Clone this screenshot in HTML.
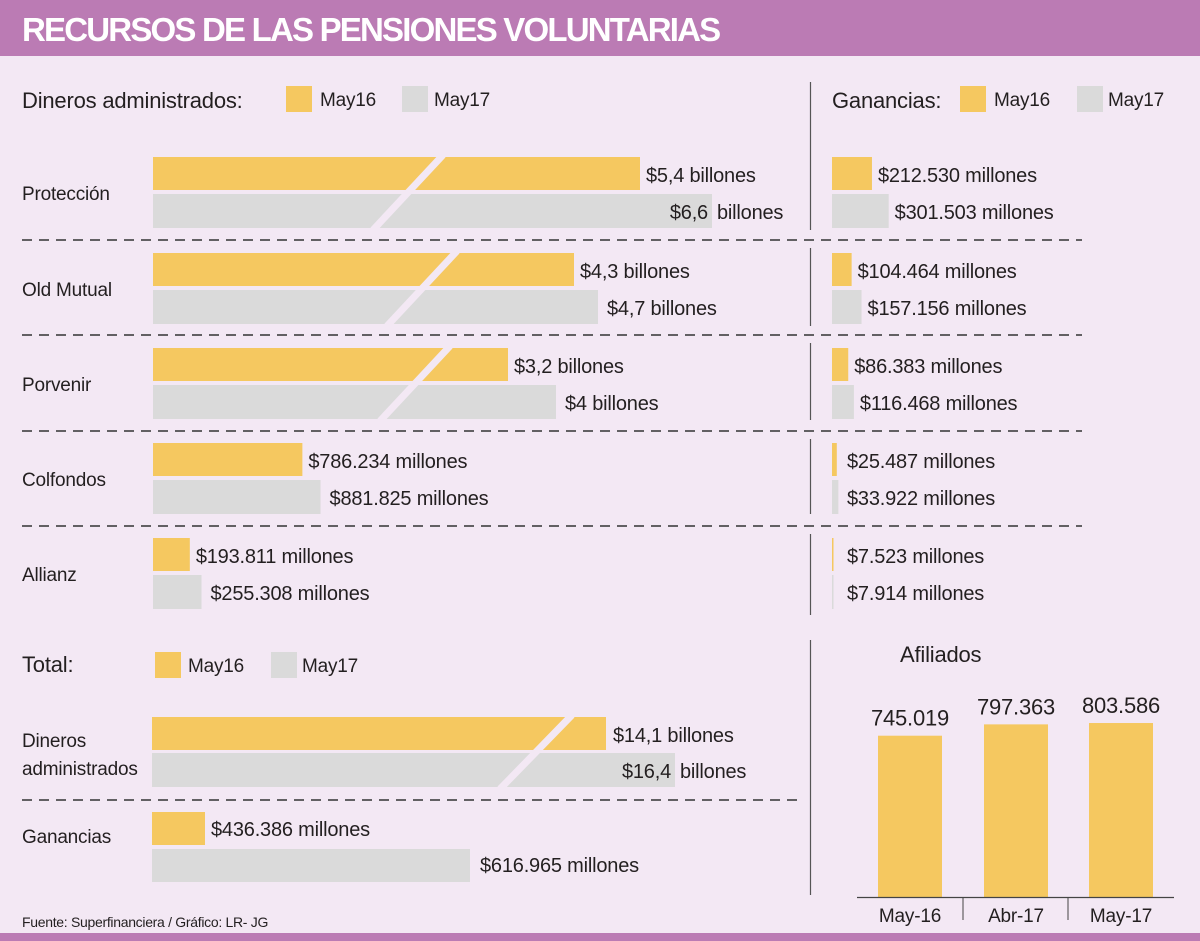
<!DOCTYPE html>
<html><head><meta charset="utf-8"><style>
body{margin:0;background:#f3e8f4;}
svg{display:block;font-family:"Liberation Sans",sans-serif;}
text{fill:#231f20;}
</style></head><body>
<svg id="c" width="1200" height="941" viewBox="0 0 1200 941">
<rect x="0" y="0" width="1200" height="941" fill="#f3e8f4"/>
<rect x="0" y="0" width="1200" height="56" fill="#bb7bb4"/>
<text x="22" y="41" style="fill:#fff;font-weight:bold;font-size:33px;letter-spacing:-1.8px">RECURSOS DE LAS PENSIONES VOLUNTARIAS</text>
<rect x="0" y="933" width="1200" height="8" fill="#bb7bb4"/>
<g id="g"></g>
</svg>
<script>
const administradoras = ["Protección","Old Mutual","Porvenir","Colfondos","Allianz"];
const dinerosMay16 = [5.4, 4.3, 3.2, 0.786234, 0.193811]; // billones
const dinerosMay17 = [6.6, 4.7, 4.0, 0.881825, 0.255308];
const dinerosLabels16 = ["$5,4 billones","$4,3 billones","$3,2 billones","$786.234 millones","$193.811 millones"];
const dinerosLabels17 = ["$6,6 billones","$4,7 billones","$4 billones","$881.825 millones","$255.308 millones"];
const gananciasMay16 = [212530, 104464, 86383, 25487, 7523]; // millones
const gananciasMay17 = [301503, 157156, 116468, 33922, 7914];
const totalDineros = [14.1, 16.4];
const totalGanancias = [436386, 616965];
const afiliadosCats = ["May-16","Abr-17","May-17"];
const afiliadosVals = [745019, 797363, 803586];

const Y = "#f5c860", G = "#dadada", BG = "#f3e8f4";
const g = document.getElementById('g');
const NS = "http://www.w3.org/2000/svg";
function mk(tag, attrs, parent){const e=document.createElementNS(NS,tag);for(const k in attrs)e.setAttribute(k,attrs[k]);(parent||g).appendChild(e);return e;}
function txt(x,y,s,size,extra){const t=mk('text',Object.assign({x:x,y:y,'font-size':size||20,'letter-spacing':'-0.2'},extra||{}));t.textContent=s;return t;}
function fmtM(v){return "$"+v.toLocaleString('de-DE')+" millones";}
function fmtB(v){return v.toLocaleString('de-DE');}

function xDin(v){ return v>=1 ? 163 + v*60 : v*190; }
function xGan(v){ return v*0.000188; }
function xTotD(v){ return 31 + v*30; }
function xTotG(v){ return 53 + (v-436386)*(265/180579); }
function hAf(v){ return v*0.0002165; }

let t;
t=txt(22,108,"Dineros administrados:",22);


let r=mk('rect',{x:286,y:86,width:26,height:26,fill:Y});


t=txt(320,106,"May16",19);


r=mk('rect',{x:402,y:86,width:26,height:26,fill:G});


t=txt(434,106,"May17",19);



t=txt(832,108,"Ganancias:",22);


r=mk('rect',{x:960,y:86,width:26,height:26,fill:Y});


t=txt(994,106,"May16",19);


r=mk('rect',{x:1077,y:86,width:26,height:26,fill:G});


t=txt(1108,106,"May17",19);



const rowTop = [157,253,348,443,538];
const dashY = [240,335,431,526];
const breakTop = [443,457,450,0,0];
const segTop=[82,248,343,439,534], segBot=[230,326,420,514,615];
administradoras.forEach((name,i)=>{
  const yt=rowTop[i], yb=yt+37;
  let l=txt(22,yt+43,name,19);
  
  
  const w16=xDin(dinerosMay16[i]), w17=xDin(dinerosMay17[i]);
  let b=mk('rect',{x:153,y:yt,width:w16,height:33,fill:Y});
  
  
  b=mk('rect',{x:153,y:yb,width:w17,height:34,fill:G});
  
  
  if(dinerosMay16[i]>=1){
    const bx=breakTop[i];
    const br=mk('line',{x1:bx,y1:yt-2,x2:bx-70,y2:yb+36,stroke:BG,'stroke-width':7});
    
    
  }
  l=txt(153+w16+6,yt+25,dinerosLabels16[i],20);
  
  
  if(i===0){
    const parts=dinerosLabels17[i].split(' ');
    l=txt(153+w17-4,yb+25,parts[0],20,{'text-anchor':'end'});
    
    
    l=txt(153+w17+5,yb+25,parts[1],20);
    
    
  } else {
    l=txt(153+w17+9,yb+25,dinerosLabels17[i],20);
    
    
  }
  const g16=Math.max(1.5,xGan(gananciasMay16[i])), g17=Math.max(1,xGan(gananciasMay17[i]));
  b=mk('rect',{x:832,y:yt,width:g16,height:33,fill:Y});
  
  
  b=mk('rect',{x:832,y:yb,width:g17,height:34,fill:G});
  
  
  l=txt(832+Math.max(g16,9)+6,yt+25,fmtM(gananciasMay16[i]),20);
  
  
  l=txt(832+Math.max(g17,9)+6,yb+25,fmtM(gananciasMay17[i]),20);
  
  
  const s=mk('line',{x1:810.5,y1:segTop[i],x2:810.5,y2:segBot[i],stroke:'#555','stroke-width':1.2});
  
  
});
dashY.forEach((y,i)=>{
  const d=mk('line',{x1:22,y1:y,x2:1082,y2:y,stroke:'#333','stroke-width':1.5,'stroke-dasharray':'10 7'});
  
  
});

t=txt(22,672,"Total:",22);


r=mk('rect',{x:155,y:652,width:26,height:26,fill:Y});


t=txt(188,672,"May16",19);


r=mk('rect',{x:271,y:652,width:26,height:26,fill:G});


t=txt(302,672,"May17",19);



t=txt(22,747,"Dineros",19);


t=txt(22,775,"administrados",19);


let tw16=xTotD(totalDineros[0]), tw17=xTotD(totalDineros[1]);
r=mk('rect',{x:152,y:717,width:tw16,height:33,fill:Y});


r=mk('rect',{x:152,y:753,width:tw17,height:34,fill:G});


r=mk('line',{x1:572,y1:715,x2:500,y2:789,stroke:BG,'stroke-width':7});


t=txt(152+tw16+7,742,"$"+fmtB(totalDineros[0])+" billones",20);


t=txt(152+tw17-4,778,"$"+fmtB(totalDineros[1]),20,{'text-anchor':'end'});


t=txt(152+tw17+5,778,"billones",20);


r=mk('line',{x1:22,y1:800,x2:797,y2:800,stroke:'#333','stroke-width':1.5,'stroke-dasharray':'10 7'});


t=txt(22,843,"Ganancias",19);


let gw16=xTotG(totalGanancias[0]), gw17=xTotG(totalGanancias[1]);
r=mk('rect',{x:152,y:812,width:gw16,height:33,fill:Y});


r=mk('rect',{x:152,y:849,width:gw17,height:33,fill:G});


t=txt(152+gw16+6,836,fmtM(totalGanancias[0]),20);


t=txt(152+gw17+10,872,fmtM(totalGanancias[1]),20);


r=mk('line',{x1:810.5,y1:640,x2:810.5,y2:895,stroke:'#555','stroke-width':1.2});



t=txt(900,662,"Afiliados",22);


const base=897, barX=[878,984,1089];
afiliadosVals.forEach((v,i)=>{
  const h=hAf(v);
  const b=mk('rect',{x:barX[i],y:base-h,width:64,height:h,fill:Y});
  
  
  let l=txt(barX[i]+32,base-h-10,fmtB(v),22,{'text-anchor':'middle'});
  
  
  l=txt(barX[i]+32,922,afiliadosCats[i],19,{'text-anchor':'middle'});
  
  
});
r=mk('line',{x1:857,y1:897.5,x2:1174,y2:897.5,stroke:'#444','stroke-width':1.2});


[963,1068].forEach((x,i)=>{
  const s=mk('line',{x1:x,y1:897,x2:x,y2:920,stroke:'#444','stroke-width':1});
  
  
});
t=txt(22,927,"Fuente: Superfinanciera  / Gráfico: LR- JG",14,{'letter-spacing':'-0.3'});


</script>
</body></html>
